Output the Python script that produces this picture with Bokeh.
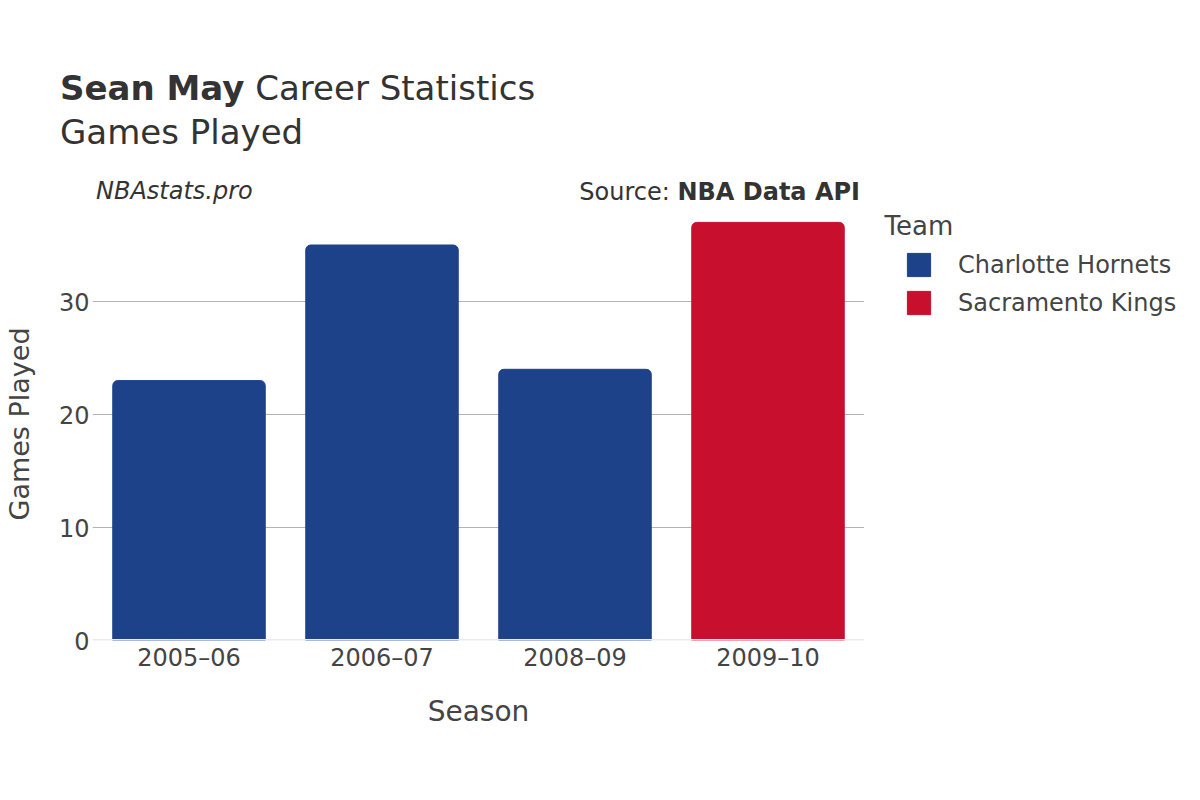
from bokeh.plotting import figure
from bokeh.models import (ColumnDataSource, FixedTicker, Range1d, FactorRange, Span, Label, Div)
from bokeh.layouts import column, row
from bokeh.embed import file_html
from bokeh.resources import INLINE

seasons = ["2005\u201306", "2006\u201307", "2008\u201309", "2009\u201310"]
games = [23, 35, 24, 37]
teams = ["Charlotte Hornets", "Charlotte Hornets", "Charlotte Hornets", "Sacramento Kings"]
team_names = ["Charlotte Hornets", "Sacramento Kings"]
team_colors = ["#1D428A", "#C8102E"]
y_ticks = [0, 10, 20, 30]
grid_ticks = [10, 20, 30]

player = "Sean May"
title_rest = "Career Statistics"
subtitle = "Games Played"
site = "NBAstats.pro"
source_prefix = "Source:"
source_name = "NBA Data API"
legend_title = "Team"

FONT = "DejaVu Sans"
W, H = 1200, 800
HEADER_H = 207
BODY_H = H - HEADER_H
MAIN_W = 864
LEG_W = W - MAIN_W

color_of = dict(zip(team_names, team_colors))


def line(html, top, size, left=None, right=None, style=""):
    pos = f"left:{left}px;" if left is not None else f"right:{right}px;text-align:right;"
    return (f'<div style="position:absolute;top:{top:.1f}px;{pos}font-size:{size}px;'
            f'line-height:{size}px;white-space:nowrap;{style}">{html}</div>')


# baseline = top + 0.846 * size (DejaVu Sans, line-height = font size)
def top_for(baseline, size):
    return baseline - 0.846 * size


header_html = (
    f'<div style="position:relative;width:{W}px;height:{HEADER_H}px;overflow:hidden;'
    f"font-family:'{FONT}';color:#333333;\">"
    + line(f"<b>{player}</b> {title_rest}", top_for(100, 34), 34, left=60)
    + line(subtitle, top_for(143.3, 34), 34, left=60)
    + line(site, top_for(199.3, 24), 24, left=96, style="font-style:italic;")
    + line(f"{source_prefix} <b>{source_name}</b>", top_for(200, 24), 24, right=W - 860)
    + "</div>"
)
header = Div(text=header_html, width=W, height=HEADER_H, margin=0)

# ---------- main chart ----------
src = ColumnDataSource(dict(season=seasons, games=games, team=teams,
                            color=[color_of[t] for t in teams]))

p = figure(width=MAIN_W, height=BODY_H, output_backend="svg", toolbar_location=None,
           x_range=FactorRange(*seasons, range_padding=0),
           y_range=Range1d(0, 433 / 11.3),
           min_border_left=92, min_border_right=0, min_border_top=0, min_border_bottom=160)
p.outline_line_color = None
p.background_fill_color = "white"
p.border_fill_color = "white"

p.vbar(x="season", top="games", width=0.79, source=src, fill_color="color",
       line_color="color", border_radius=(5, 5, 0, 0))

for ax in (p.xaxis[0], p.yaxis[0]):
    ax.axis_line_color = None
    ax.major_tick_line_color = None
    ax.minor_tick_line_color = None
    ax.major_tick_out = 0
    ax.major_tick_in = 0
    ax.minor_tick_out = 0
    ax.major_label_text_font = FONT
    ax.major_label_text_font_size = "24px"
    ax.major_label_text_color = "#444444"
    ax.axis_label_text_font = FONT
    ax.axis_label_text_font_style = "normal"
    ax.axis_label_text_color = "#444444"
p.yaxis.ticker = FixedTicker(ticks=y_ticks)
p.yaxis.major_label_standoff = 3
p.xaxis.major_label_standoff = 3
p.yaxis.axis_label = "Games Played"
p.yaxis.axis_label_text_font_size = "27px"
p.yaxis.axis_label_standoff = 21
p.xaxis.axis_label = "Season"
p.xaxis.axis_label_text_font_size = "28px"
p.xaxis.axis_label_standoff = 20

p.xgrid.grid_line_color = None
p.ygrid.ticker = FixedTicker(ticks=grid_ticks)
p.ygrid.grid_line_color = "#b3b3b3"
p.ygrid.grid_line_width = 1

p.add_layout(Span(location=0, dimension="width", line_color="#ebebeb", line_width=3))

# ---------- legend panel (its frame is aligned with the chart frame: y 207..640) ----------
legfig = figure(width=LEG_W, height=BODY_H, output_backend="svg", toolbar_location=None,
                x_range=Range1d(0, LEG_W), y_range=Range1d(0, BODY_H),
                x_axis_type=None, y_axis_type=None, min_border=0)
legfig.outline_line_color = None
legfig.grid.visible = False
legfig.background_fill_color = "white"
legfig.border_fill_color = "white"

leg_src = ColumnDataSource(dict(team=team_names, color=team_colors,
                                x=[0] * len(team_names), top=[0] * len(team_names)))
legfig.vbar(x="x", top="top", width=0, source=leg_src, fill_color="color",
            line_color="color", legend_field="team")
legfig.add_layout(Label(x=20, y=415, x_units="screen", y_units="screen", text=legend_title,
                        text_font=FONT, text_font_size="26px", text_baseline="alphabetic",
                        text_color="#444444"))

leg = legfig.legend[0]
leg.location = (40, 323)
leg.padding = 0
leg.margin = 0
leg.border_line_alpha = 0
leg.background_fill_alpha = 0
leg.glyph_width = 29
leg.glyph_height = 29
leg.label_height = 29
leg.spacing = 9
leg.label_standoff = 25
leg.label_text_font = FONT
leg.label_text_font_size = "24px"
leg.label_text_color = "#444444"

layout = column(header, row(p, legfig, spacing=0), spacing=0)

open("out.html", "w").write(file_html(layout, INLINE))
